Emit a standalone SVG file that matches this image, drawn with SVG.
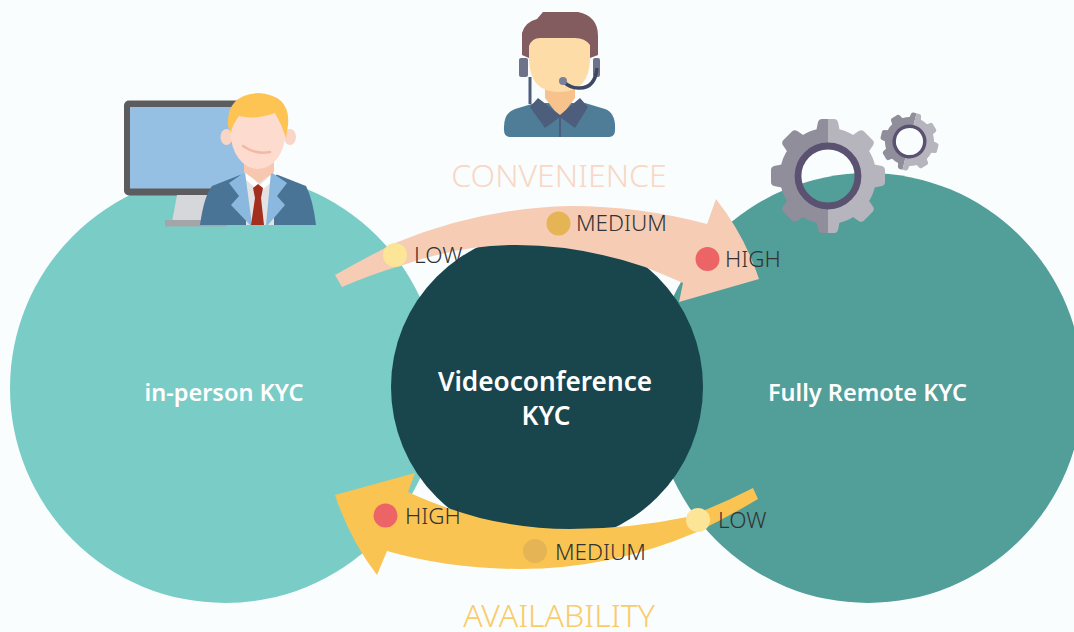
<svg xmlns="http://www.w3.org/2000/svg" xmlns:xlink="http://www.w3.org/1999/xlink" width="1074" height="632" viewBox="0 0 1074 632">
<style>
text{font-family:"Noto Sans","Open Sans","Liberation Sans",sans-serif}
.lv{font-size:22.500px;font-weight:300;fill:#333}
.nm{font-size:23.500px;font-weight:600;fill:#fff;text-anchor:middle}
.big{font-size:32px;font-weight:300}
.low{fill:#fde597}.med{fill:#e5b455}.high{fill:#ec6466}
</style>
<defs>
<g id="gearShape" fill="currentColor">
<circle r="39" fill="none" stroke="currentColor" stroke-width="18"/>
<path id="tooth" d="M-12-44L-10-54Q-9-57-6-57H6Q9-57 10-54L12-44Z"/>
<use xlink:href="#tooth" transform="rotate(45)"/>
<use xlink:href="#tooth" transform="rotate(90)"/>
<use xlink:href="#tooth" transform="rotate(135)"/>
<use xlink:href="#tooth" transform="rotate(180)"/>
<use xlink:href="#tooth" transform="rotate(225)"/>
<use xlink:href="#tooth" transform="rotate(270)"/>
<use xlink:href="#tooth" transform="rotate(315)"/>
</g>
<clipPath id="lh"><rect x="-70" y="-70" width="70" height="140"/></clipPath>
<clipPath id="rh"><rect x="0" y="-70" width="70" height="140"/></clipPath>
<g id="gear">
<use xlink:href="#gearShape" clip-path="url(#lh)" style="color:#908e9b"/>
<use xlink:href="#gearShape" clip-path="url(#rh)" style="color:#b6b5be"/>
<circle r="30" fill="none" stroke="#5b5170" stroke-width="6.800"/>
</g>
</defs>
<rect width="1074" height="632" fill="#f9fdfe"/>
<g id="node-inperson">
<circle cx="225" cy="388" r="215" fill="#7accc7"/>
<text class="nm" x="224" y="401">in-person KYC</text>
</g>
<g id="node-remote">
<circle cx="868" cy="388" r="215" fill="#529e98"/>
<text class="nm" x="867.500" y="401">Fully Remote KYC</text>
</g>
<g id="node-video">
<circle cx="547" cy="387" r="156" fill="#19454d"/>
<text class="nm" x="545" y="391" style="font-size:26.200px">Videoconference</text>
<text class="nm" x="546" y="425" style="font-size:26.200px">KYC</text>
</g>
<g id="connectors">
<path id="arrow-convenience" fill="#f6ccb4" d="M335 275Q365 258 395 243Q480 208 570 206Q640 206 707 224L716 199Q745 236 759 279L679 302L683 283Q660 273 645 267Q580 245 517 245Q460 245 403 265Q372 274 342 287Z"/>
<path id="arrow-availability" fill="#fac452" d="M753 488L758 499Q728 517 697 532Q610 569 520 569Q450 569 387 551L377 575Q350 540 335 495L415 473L408 492Q440 507 480 518Q525 529 570 529Q630 529 687 517Q720 505 753 488Z"/>
</g>
<g id="level-low-top"><circle class="low" cx="395" cy="255" r="12"/><text class="lv" x="414" y="263">LOW</text></g>
<g id="level-medium-top"><circle class="med" cx="558.500" cy="223.500" r="12"/><text class="lv" x="576" y="231">MEDIUM</text></g>
<g id="level-high-top"><circle class="high" cx="707.500" cy="259" r="12"/><text class="lv" x="725" y="267">HIGH</text></g>
<g id="level-high-bottom"><circle class="high" cx="385.500" cy="515.500" r="12"/><text class="lv" x="405" y="524">HIGH</text></g>
<g id="level-medium-bottom"><circle class="med" cx="535" cy="551" r="12"/><text class="lv" x="555" y="560">MEDIUM</text></g>
<g id="level-low-bottom"><circle class="low" cx="698" cy="520" r="12"/><text class="lv" x="718" y="528">LOW</text></g>
<g id="title-convenience"><text class="big" x="559" y="187" text-anchor="middle" fill="#f8d7c4">CONVENIENCE</text></g>
<g id="title-availability"><text class="big" x="559" y="627" text-anchor="middle" fill="#fbcb68">AVAILABILITY</text></g>
<g id="icon-agent-desk">
<rect x="124" y="100.500" width="125" height="95" rx="5" fill="#5c5c5e"/>
<rect x="130" y="107" width="118" height="81.500" fill="#96bfe4"/>
<path d="M177 195H212V222H172Z" fill="#d6d7db"/>
<rect x="165" y="220" width="62" height="6.500" fill="#a4a5a9"/>
<path d="M200 225Q204 196 212 186L240 175L259 172L278 175L306 186Q313 200 316 225Z" fill="#497496"/>
<path d="M246 172H274V225H246Z" fill="#e3e3e3"/>
<path d="M244 170L260 185L276 170V178L260 192L244 178Z" fill="#fff"/>
<path d="M229 183L245 172L252 225H250L231 205L239 196Z" fill="#8ab8de"/>
<path d="M287 183L271 172L266 225H268L285 205L277 196Z" fill="#8ab8de"/>
<path d="M253 188L258 184L263 188L261 198L264 225H251L255 198Z" fill="#a3301f"/>
<path d="M244 158H274V172L259 183L244 172Z" fill="#f7c7b0"/>
<ellipse cx="226.500" cy="137" rx="6" ry="8" fill="#f9d5c5"/><ellipse cx="290" cy="137" rx="6" ry="8" fill="#f9d5c5"/>
<ellipse cx="258" cy="132" rx="27.500" ry="37" fill="#fddccf"/>
<path d="M243 146Q256 155 270 152" fill="none" stroke="#f2b9a4" stroke-width="2.500" stroke-linecap="round"/>
<path d="M228 126Q226 95 258 93Q291 95 288 125L286 138Q282 125 275 113Q255 120 239 116Q232 125 231 133Z" fill="#fec453"/>
</g>
<g id="icon-agent-headset">
<path d="M504 130Q503 113 515 109L535 103H585L605 109Q616 113 615 130Q615 137 609 137H510Q504 137 504 130Z" fill="#4f7d97"/>
<path d="M545 88H575V98L560 118L545 98Z" fill="#f7c28c"/>
<path d="M530 107L538 98L560 115L580 98L588 107L575 128L560 117L545 128Z" fill="#4d5d7c"/>
<rect x="559" y="117" width="2" height="20" fill="#4d5d7c"/>
<rect x="519" y="58" width="9" height="19" rx="2" fill="#6f7389"/>
<rect x="593" y="58" width="7" height="19" rx="2" fill="#6f7389"/>
<path d="M529 58Q529 92 559 92Q590 92 590 58V38H529Z" fill="#fedca8"/>
<path d="M522 55V33Q525 22 537 19L543 12H578Q598 16 598 36V55L590 58V45Q585 38 575 38H540Q532 38 529 46V58Z" fill="#825c5e"/>
<path d="M530 77V104" fill="none" stroke="#4d5d7c" stroke-width="3"/>
<path d="M597 68Q595 89 578 88Q570 88 564 82" fill="none" stroke="#3d4862" stroke-width="3.500"/>
<circle cx="563" cy="81" r="4" fill="#7a8198"/>
</g>
<g id="icon-gears">
<use xlink:href="#gear" transform="translate(828 176)"/>
<use xlink:href="#gear" transform="translate(909.500 141.500) rotate(14) scale(.51)"/>
</g>
</svg>
